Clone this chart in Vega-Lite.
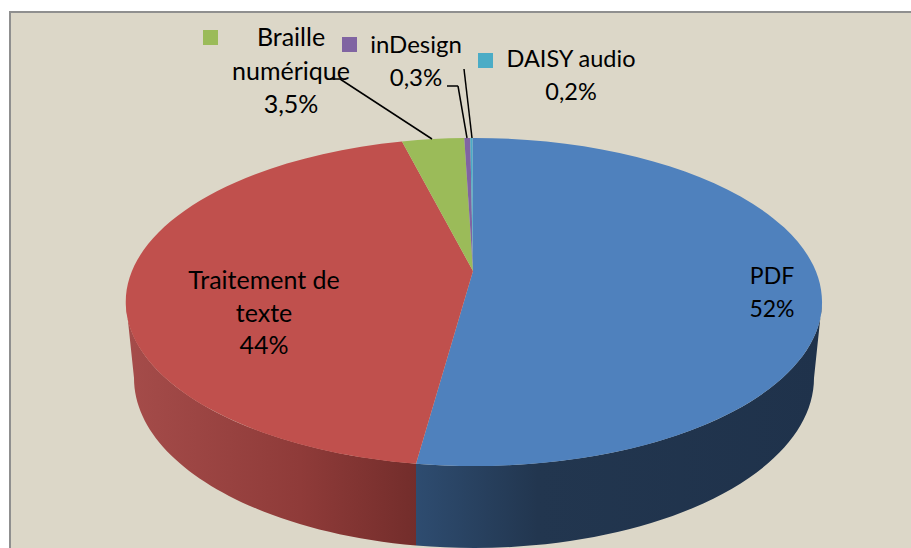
{"$schema":"https://vega.github.io/schema/vega-lite/v6.json","width":911,"height":548,"padding":0,"autosize":{"type":"none"},"background":"#ffffff","view":{"stroke":null},
"data":{"values":[
{"format":"PDF","share":52,"label":"PDF\n52%"},
{"format":"Traitement de texte","share":44,"label":"Traitement de\ntexte\n44%"},
{"format":"Braille numérique","share":3.5,"label":"Braille\nnumérique\n3,5%"},
{"format":"inDesign","share":0.3,"label":"inDesign\n0,3%"},
{"format":"DAISY audio","share":0.2,"label":"DAISY audio\n0,2%"}]},
"resolve":{"scale":{"x":"shared","y":"shared"}},
"encoding":{},
"layer":[
{"mark":{"type":"rect","fill":"#dcd7c8","stroke":"#8f8f8f","strokeWidth":2},"transform":[{"filter":"datum.format==='PDF'"}],"encoding":{"x":{"datum":10,"type":"quantitative","scale":{"domain":[0,911],"nice":false,"zero":false},"axis":null},"x2":{"datum":925},"y":{"datum":12,"type":"quantitative","scale":{"domain":[0,548],"nice":false,"zero":false,"reverse":true},"axis":null},"y2":{"datum":560}}},
{"mark":{"type":"point","filled":true,"opacity":1,"size":4,"shape":"M-57,192.7A348,164,0,0,0,349,31L341,107A340,170,0,0,1,-57,274.5Z","fill":{"gradient":"linear","x1":0,"y1":0,"x2":1,"y2":0,"stops":[{"offset":0,"color":"#2e4c70"},{"offset":0.3,"color":"#22364f"},{"offset":1,"color":"#1f324b"}]}},"transform":[{"filter":"datum.format==='PDF'"}],"encoding":{"x":{"datum":473,"type":"quantitative"},"y":{"datum":271,"type":"quantitative"}}},
{"mark":{"type":"point","filled":true,"opacity":1,"size":4,"shape":"M-347,31A348,164,0,0,0,-57,192.7L-57,274.5A340,170,0,0,1,-339,107Z","fill":{"gradient":"linear","x1":0,"y1":0,"x2":1,"y2":0,"stops":[{"offset":0,"color":"#a54c4a"},{"offset":0.6,"color":"#8f3b39"},{"offset":1,"color":"#732d2b"}]}},"transform":[{"filter":"datum.format==='Traitement de texte'"}],"encoding":{"x":{"datum":473,"type":"quantitative"},"y":{"datum":271,"type":"quantitative"}}},
{"mark":{"type":"point","filled":true,"opacity":1,"size":4},"encoding":{"x":{"datum":473,"type":"quantitative"},"y":{"datum":271,"type":"quantitative"},
"shape":{"field":"format","type":"nominal","legend":null,"scale":{"domain":["PDF","Traitement de texte","Braille numérique","inDesign","DAISY audio"],"range":["M0,0L-0.5,-133A348,164,0,1,1,-57,192.7Z","M0,0L-57,192.7A348,164,0,0,1,-71,-129.5Z","M0,0L-71,-129.5A348,164,0,0,1,-8.7,-132.9Z","M0,0L-8.7,-132.9A348,164,0,0,1,-2.7,-133Z","M0,0L-2.7,-133A348,164,0,0,1,-0.5,-133Z"]}},
"color":{"field":"format","type":"nominal","legend":null,"scale":{"domain":["PDF","Traitement de texte","Braille numérique","inDesign","DAISY audio"],"range":["#4f81bd","#c0504d","#9bbb59","#8064a2","#4bacc6"]}}}},
{"mark":{"type":"rule","color":"#000000","strokeWidth":1.5},"transform":[{"filter":"datum.format==='Braille numérique'"}],"encoding":{"x":{"datum":330,"type":"quantitative"},"x2":{"datum":340},"y":{"datum":79,"type":"quantitative"},"y2":{"datum":79}}},
{"mark":{"type":"rule","color":"#000000","strokeWidth":1.5},"transform":[{"filter":"datum.format==='Braille numérique'"}],"encoding":{"x":{"datum":340,"type":"quantitative"},"x2":{"datum":432},"y":{"datum":79,"type":"quantitative"},"y2":{"datum":139}}},
{"mark":{"type":"rule","color":"#000000","strokeWidth":1.5},"transform":[{"filter":"datum.format==='inDesign'"}],"encoding":{"x":{"datum":447,"type":"quantitative"},"x2":{"datum":458},"y":{"datum":86,"type":"quantitative"},"y2":{"datum":86}}},
{"mark":{"type":"rule","color":"#000000","strokeWidth":1.5},"transform":[{"filter":"datum.format==='inDesign'"}],"encoding":{"x":{"datum":458,"type":"quantitative"},"x2":{"datum":467},"y":{"datum":86,"type":"quantitative"},"y2":{"datum":138}}},
{"mark":{"type":"rule","color":"#000000","strokeWidth":1.5},"transform":[{"filter":"datum.format==='DAISY audio'"}],"encoding":{"x":{"datum":464,"type":"quantitative"},"x2":{"datum":472},"y":{"datum":69,"type":"quantitative"},"y2":{"datum":138}}},
{"mark":{"type":"point","shape":"square","filled":true,"opacity":1,"size":225},"transform":[{"filter":"datum.format==='Braille numérique'"}],"encoding":{"x":{"datum":210.5,"type":"quantitative"},"y":{"datum":37.5,"type":"quantitative"},"color":{"field":"format","type":"nominal","legend":null}}},
{"mark":{"type":"point","shape":"square","filled":true,"opacity":1,"size":225},"transform":[{"filter":"datum.format==='inDesign'"}],"encoding":{"x":{"datum":349.5,"type":"quantitative"},"y":{"datum":44.5,"type":"quantitative"},"color":{"field":"format","type":"nominal","legend":null}}},
{"mark":{"type":"point","shape":"square","filled":true,"opacity":1,"size":225},"transform":[{"filter":"datum.format==='DAISY audio'"}],"encoding":{"x":{"datum":485.5,"type":"quantitative"},"y":{"datum":60.5,"type":"quantitative"},"color":{"field":"format","type":"nominal","legend":null}}},
{"mark":{"type":"text","font":"Lato","fontSize":23,"lineBreak":"\n","lineHeight":33,"align":"center","baseline":"middle","color":"#000000"},"transform":[{"filter":"datum.format==='PDF'"}],"encoding":{"x":{"datum":772,"type":"quantitative"},"y":{"datum":277,"type":"quantitative"},"text":{"field":"label"}}},
{"mark":{"type":"text","font":"Lato","fontSize":25,"lineBreak":"\n","lineHeight":32.5,"align":"center","baseline":"middle","color":"#000000"},"transform":[{"filter":"datum.format==='Traitement de texte'"}],"encoding":{"x":{"datum":264,"type":"quantitative"},"y":{"datum":281,"type":"quantitative"},"text":{"field":"label"}}},
{"mark":{"type":"text","font":"Lato","fontSize":25,"lineBreak":"\n","lineHeight":33.5,"align":"center","baseline":"middle","color":"#000000"},"transform":[{"filter":"datum.format==='Braille numérique'"}],"encoding":{"x":{"datum":291,"type":"quantitative"},"y":{"datum":38,"type":"quantitative"},"text":{"field":"label"}}},
{"mark":{"type":"text","font":"Lato","fontSize":24,"lineBreak":"\n","lineHeight":33,"align":"center","baseline":"middle","color":"#000000"},"transform":[{"filter":"datum.format==='inDesign'"}],"encoding":{"x":{"datum":416,"type":"quantitative"},"y":{"datum":46,"type":"quantitative"},"text":{"field":"label"}}},
{"mark":{"type":"text","font":"Lato","fontSize":23.5,"lineBreak":"\n","lineHeight":33,"align":"center","baseline":"middle","color":"#000000"},"transform":[{"filter":"datum.format==='DAISY audio'"}],"encoding":{"x":{"datum":571,"type":"quantitative"},"y":{"datum":60,"type":"quantitative"},"text":{"field":"label"}}}
]}
